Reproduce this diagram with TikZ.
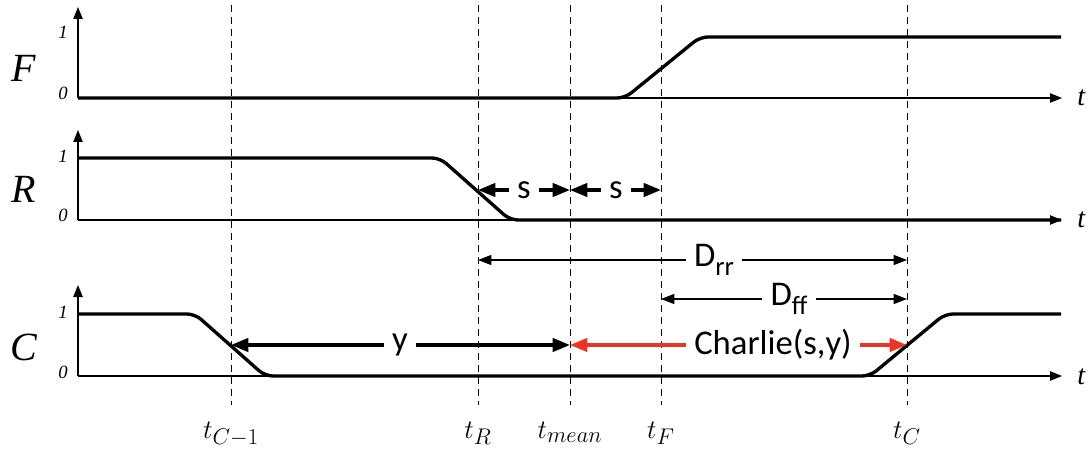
\RequirePackage{fix-cm}
\documentclass[tikz,border=0pt]{standalone}
\usepackage{fontspec}
\usepackage{tikz}
\usetikzlibrary{arrows.meta}
\usetikzlibrary{calc}
\newfontfamily\timesit{Liberation Serif}
\newfontfamily\calib{Carlito}
\DeclareMathSizes{20}{20}{17}{12}
\definecolor{charliered}{RGB}{236,52,36}
\newcommand\lowsub[1]{\raisebox{-0.25em}{\fontsize{20}{20}\selectfont #1}}
\tikzset{
    axis/.style={line width=1pt, -{Triangle[length=9pt,width=7pt]}},
    signal/.style={line width=2.5pt, rounded corners=6pt},
    guide/.style={line width=0.7pt, dash pattern=on 5.5pt off 3.5pt},
    sig name/.style={anchor=base, inner sep=0pt, font=\timesit\itshape\fontsize{30}{30}\selectfont},
    level/.style={anchor=base east, inner sep=0pt, font=\timesit\itshape\fontsize{14}{14}\selectfont},
    time axis/.style={anchor=base west, inner sep=0pt, font=\timesit\itshape\fontsize{21}{21}\selectfont},
    event/.style={anchor=base, inner sep=0pt, font=\fontsize{20}{24}\selectfont},
    span/.style={inner ysep=0pt, inner xsep=6pt, font=\calib\fontsize{26}{26}\selectfont},
    big arrow/.style={line width=2.4pt, -{Triangle[length=13pt,width=10pt]}},
    dim arrow/.style={line width=0.9pt, -{Triangle[length=10pt,width=7.5pt]}},
}

\begin{document}
\begin{tikzpicture}[x=0.75pt,y=-0.75pt]
    \useasboundingbox (0,0) rectangle (1089,456);
    % event times
    \coordinate (tCm1) at (231,5);
    \coordinate (tR) at (478,5);
    \coordinate (tM) at (570,5);
    \coordinate (tF) at (661,5);
    \coordinate (tC) at (907,5);
    \coordinate (bot) at (0,405);
    \foreach \n in {tCm1,tR,tM,tF,tC}
        \draw[guide] (\n) -- (\n |- bot);
    % axes
    \coordinate (oF) at (78,98);
    \coordinate (oR) at (78,220);
    \coordinate (oC) at (78,376);
    \draw[axis] (oF) -- ++(0,-91);
    \draw[axis] (oF) -- ++(984,0);
    \draw[axis] (oR) -- ++(0,-90);
    \draw[axis] (oR) -- ++(984,0);
    \draw[axis] (oC) -- ++(0,-91);
    \draw[axis] (oC) -- ++(984,0);
    % signals
    \draw[signal] (oF) -- (625,98) -- (700,37) -- (1061,37);
    \draw[signal] (78,158) -- (440,158) -- (510,220) -- (1061,220);
    \draw[signal] (78,314) -- (195,314) -- (265,376) -- (870,376) -- (945,314) -- (1061,314);
    % names and levels
    \node[sig name] (labF) at (24,82) {F};
    \node[sig name] (labR) at (24,203) {R};
    \node[sig name] (labC) at (24,360) {C};
    \node[level] at (68,39) {1};
    \node[level] at (68,100) {0};
    \node[level] at (68,163) {1};
    \node[level] at (68,222) {0};
    \node[level] at (68,318) {1};
    \node[level] at (68,378) {0};
    \node[time axis] at (1077,106) {t};
    \node[time axis] at (1077,228) {t};
    \node[time axis] at (1077,384) {t};
    % event labels
    \node[event] (lCm1) at (231,438) {$t_{C-1}$};
    \node[event] (lR) at (478,438) {$t_R$};
    \node[event] (lM) at (570,438) {$t_{mean}$};
    \node[event] (lF) at (661,438) {$t_F$};
    \node[event] (lC) at (907,438) {$t_C$};
    % spans
    \node[span] (s1) at (524,190) {s};
    \draw[big arrow] (s1) -- (tR |- s1);
    \draw[big arrow] (s1) -- (tM |- s1);
    \node[span] (s2) at (616,190) {s};
    \draw[big arrow] (s2) -- (tM |- s2);
    \draw[big arrow] (s2) -- (tF |- s2);
    \node[span] (drr) at (714,260) {D\lowsub{rr}};
    \draw[dim arrow] (drr) -- (tR |- drr);
    \draw[dim arrow] (drr) -- (tC |- drr);
    \node[span] (dff) at (789,299) {D\lowsub{ff}};
    \draw[dim arrow] (dff) -- (tF |- dff);
    \draw[dim arrow] (dff) -- (tC |- dff);
    \node[span] (gap) at (400,345) {y};
    \draw[big arrow] (gap) -- (tCm1 |- gap);
    \draw[big arrow] (gap) -- (tM |- gap);
    \node[span] (charlie) at (773,345) {Charlie(s,y)};
    \draw[big arrow, color=charliered] (charlie) -- (tM |- charlie);
    \draw[big arrow, color=charliered] (charlie) -- (tC |- charlie);
\end{tikzpicture}
\end{document}
